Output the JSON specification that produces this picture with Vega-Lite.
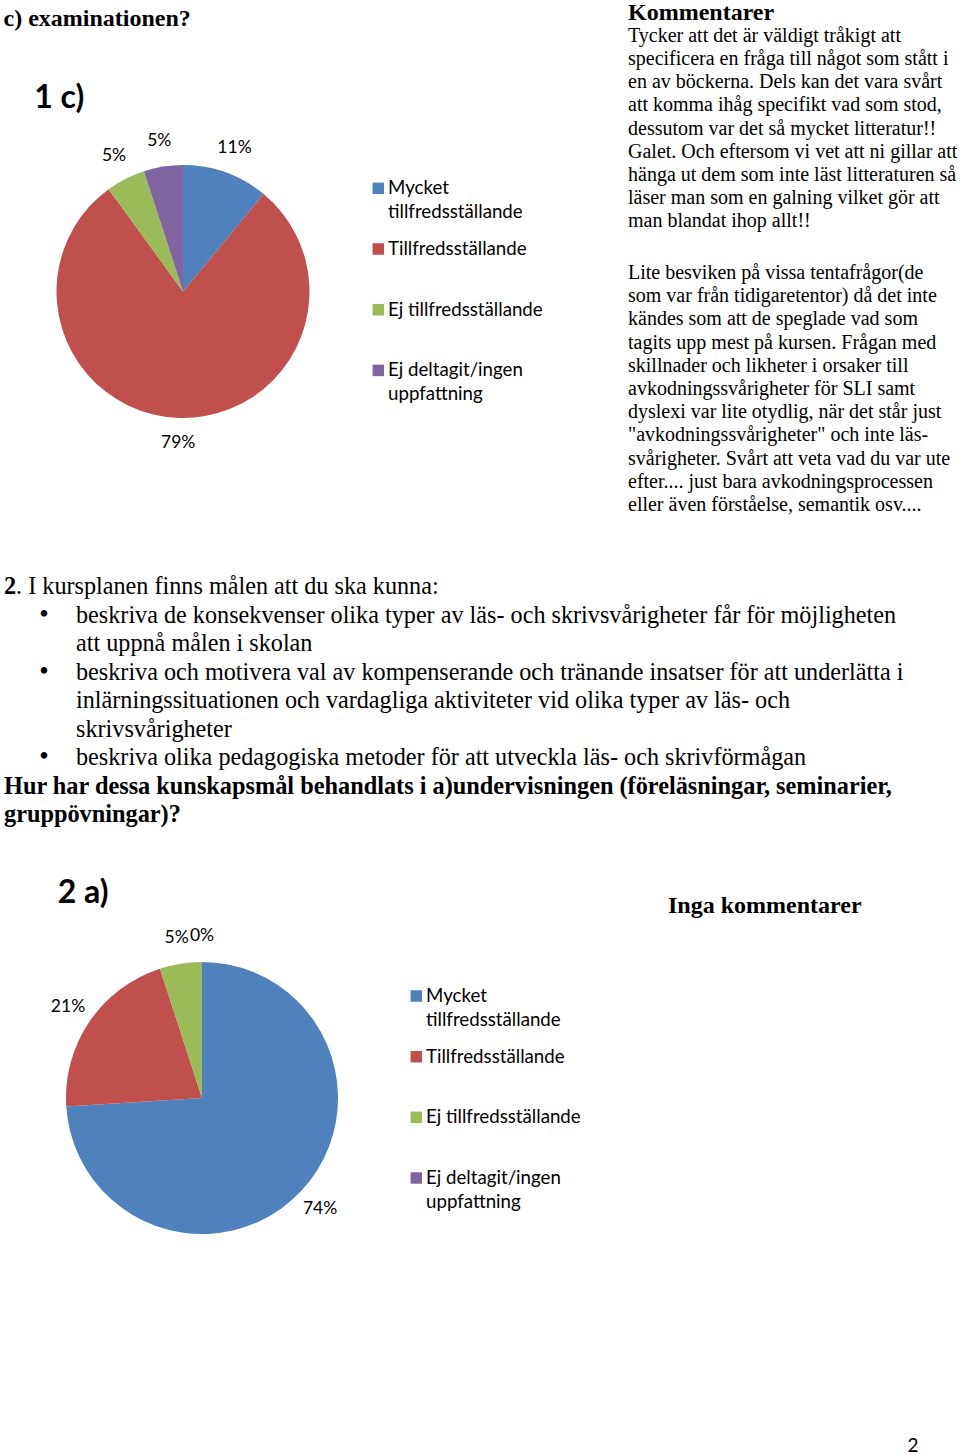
{
  "$schema": "https://vega.github.io/schema/vega-lite/v6.json",
  "padding": 0,
  "background": "white",
  "spacing": 0,
  "config": {
    "view": {"stroke": null},
    "axis": {"disable": true},
    "legend": {"disable": true},
    "concat": {"spacing": 0}
  },
  "datasets": {
    "pie1": [
      {"cat": "Mycket tillfredsställande", "share": 0.11, "order": 1},
      {"cat": "Tillfredsställande", "share": 0.79, "order": 2},
      {"cat": "Ej tillfredsställande", "share": 0.05, "order": 3},
      {"cat": "Ej deltagit/ingen uppfattning", "share": 0.05, "order": 4}
    ],
    "pie2": [
      {"cat": "Mycket tillfredsställande", "share": 0.74, "order": 1},
      {"cat": "Tillfredsställande", "share": 0.21, "order": 2},
      {"cat": "Ej tillfredsställande", "share": 0.05, "order": 3},
      {"cat": "Ej deltagit/ingen uppfattning", "share": 0.0, "order": 4}
    ],
    "legend": [
      {"cat": "Mycket tillfredsställande", "order": 1, "label": "Mycket\ntillfredsställande"},
      {"cat": "Tillfredsställande", "order": 2, "label": "Tillfredsställande"},
      {"cat": "Ej tillfredsställande", "order": 3, "label": "Ej tillfredsställande"},
      {"cat": "Ej deltagit/ingen uppfattning", "order": 4, "label": "Ej deltagit/ingen\nuppfattning"}
    ],
    "para1": [
      {"line": 0, "text": "Tycker att det är väldigt tråkigt att"},
      {"line": 1, "text": "specificera en fråga till något som stått i"},
      {"line": 2, "text": "en av böckerna. Dels kan det vara svårt"},
      {"line": 3, "text": "att komma ihåg specifikt vad som stod,"},
      {"line": 4, "text": "dessutom var det så mycket litteratur!!"},
      {"line": 5, "text": "Galet. Och eftersom vi vet att ni gillar att"},
      {"line": 6, "text": "hänga ut dem som inte läst litteraturen så"},
      {"line": 7, "text": "läser man som en galning vilket gör att"},
      {"line": 8, "text": "man blandat ihop allt!!"}
    ],
    "para2": [
      {"line": 0, "text": "Lite besviken på vissa tentafrågor(de"},
      {"line": 1, "text": "som var från tidigaretentor) då det inte"},
      {"line": 2, "text": "kändes som att de speglade vad som"},
      {"line": 3, "text": "tagits upp mest på kursen. Frågan med"},
      {"line": 4, "text": "skillnader och likheter i orsaker till"},
      {"line": 5, "text": "avkodningssvårigheter för SLI samt"},
      {"line": 6, "text": "dyslexi var lite otydlig, när det står just"},
      {"line": 7, "text": "\"avkodningssvårigheter\" och inte läs-"},
      {"line": 8, "text": "svårigheter. Svårt att veta vad du var ute"},
      {"line": 9, "text": "efter.... just bara avkodningsprocessen"},
      {"line": 10, "text": "eller även förståelse, semantik osv...."}
    ],
    "sec2first": [
      {"line": 0, "col": 0, "text": ". I kursplanen finns målen att du ska kunna:"}
    ],
    "sec2": [
      {"line": 1, "col": 2, "text": "beskriva de konsekvenser olika typer av läs- och skrivsvårigheter får för möjligheten"},
      {"line": 2, "col": 2, "text": "att uppnå målen i skolan"},
      {"line": 3, "col": 2, "text": "beskriva och motivera val av kompenserande och tränande insatser för att underlätta i"},
      {"line": 4, "col": 2, "text": "inlärningssituationen och vardagliga aktiviteter vid olika typer av läs- och"},
      {"line": 5, "col": 2, "text": "skrivsvårigheter"},
      {"line": 6, "col": 2, "text": "beskriva olika pedagogiska metoder för att utveckla läs- och skrivförmågan"}
    ],
    "sec2bullets": [
      {"line": 1, "col": 1, "text": "•"},
      {"line": 3, "col": 1, "text": "•"},
      {"line": 6, "col": 1, "text": "•"}
    ],
    "sec2bold": [
      {"line": 0, "col": 0, "text": "2"},
      {"line": 7, "col": 0, "text": "Hur har dessa kunskapsmål behandlats i a)undervisningen (föreläsningar, seminarier,"},
      {"line": 8, "col": 0, "text": "gruppövningar)?"}
    ]
  },
  "vconcat": [
    {
      "spacing": 0,
      "hconcat": [
        {
          "spacing": 0,
          "vconcat": [
            {
              "width": 366,
              "height": 115,
              "layer": [
                {
                  "data": {"values": [{"line": 0, "col": 0, "text": "c) examinationen?"}]},
                  "mark": {"type": "text", "font": "Liberation Serif", "fontWeight": "bold", "fontSize": 24, "align": "left", "baseline": "alphabetic", "color": "#000000"},
                  "encoding": {
                    "x": {"field": "col", "type": "quantitative", "scale": {"domain": [0, 1], "range": [3.5, 34.2], "nice": false, "zero": false}},
                    "y": {"field": "line", "type": "quantitative", "scale": {"domain": [0, 1], "range": [26, 107.5], "nice": false, "zero": false}},
                    "text": {"field": "text"}
                  }
                },
                {
                  "data": {"values": [{"line": 1, "col": 1, "text": "1 c)"}]},
                  "mark": {"type": "text", "font": "Lato", "fontWeight": "bold", "fontSize": 32, "align": "left", "baseline": "alphabetic", "color": "#000000"},
                  "encoding": {
                    "x": {"field": "col", "type": "quantitative", "scale": {"domain": [0, 1], "range": [3.5, 34.2], "nice": false, "zero": false}},
                    "y": {"field": "line", "type": "quantitative", "scale": {"domain": [0, 1], "range": [26, 107.5], "nice": false, "zero": false}},
                    "text": {"field": "text"}
                  }
                }
              ]
            },
            {
              "width": 366,
              "height": 353,
              "data": {"name": "pie1"},
              "layer": [
                {
                  "mark": {"type": "arc", "outerRadius": 126.5},
                  "encoding": {
                    "theta": {"field": "share", "type": "quantitative", "stack": true},
                    "order": {"field": "order", "type": "quantitative"},
                    "color": {"field": "cat", "type": "nominal", "legend": null,
                      "scale": {"domain": ["Mycket tillfredsställande", "Tillfredsställande", "Ej tillfredsställande", "Ej deltagit/ingen uppfattning"],
                                "range": ["#4F81BD", "#C0504D", "#9BBB59", "#8064A2"]}}
                  }
                },
                {
                  "mark": {"type": "text", "radius": 152, "font": "Lato", "fontSize": 17.5, "color": "#000000"},
                  "encoding": {
                    "theta": {"field": "share", "type": "quantitative", "stack": true},
                    "order": {"field": "order", "type": "quantitative"},
                    "text": {"field": "share", "type": "quantitative", "format": ".0%"}
                  }
                }
              ]
            }
          ]
        },
        {
          "width": 262,
          "height": 572,
          "data": {"name": "legend"},
          "layer": [
            {
              "mark": {"type": "point", "shape": "square", "filled": true, "size": 132, "opacity": 1, "strokeWidth": 0},
              "encoding": {
                "x": {"datum": 0, "type": "quantitative", "scale": {"domain": [0, 1], "range": [12.3, 22], "nice": false, "zero": false}},
                "y": {"field": "order", "type": "quantitative", "scale": {"domain": [1, 4], "range": [188.3, 370.4], "nice": false, "zero": false}},
                "color": {"field": "cat", "type": "nominal", "legend": null,
                  "scale": {"domain": ["Mycket tillfredsställande", "Tillfredsställande", "Ej tillfredsställande", "Ej deltagit/ingen uppfattning"],
                            "range": ["#4F81BD", "#C0504D", "#9BBB59", "#8064A2"]}}
              }
            },
            {
              "mark": {"type": "text", "font": "Lato", "fontSize": 18.7, "align": "left", "baseline": "alphabetic", "dy": 6, "lineBreak": "\n", "lineHeight": 24, "color": "#000000"},
              "encoding": {
                "x": {"datum": 1, "type": "quantitative", "scale": {"domain": [0, 1], "range": [12.3, 22], "nice": false, "zero": false}},
                "y": {"field": "order", "type": "quantitative", "scale": {"domain": [1, 4], "range": [188.3, 370.4], "nice": false, "zero": false}},
                "text": {"field": "label"}
              }
            }
          ]
        },
        {
          "width": 332,
          "height": 572,
          "resolve": {"scale": {"y": "independent"}},
          "layer": [
            {
              "data": {"values": [{"line": 0, "text": "Kommentarer"}]},
              "mark": {"type": "text", "font": "Liberation Serif", "fontWeight": "bold", "fontSize": 24, "align": "left", "baseline": "alphabetic", "color": "#000000"},
              "encoding": {
                "x": {"value": 0},
                "y": {"field": "line", "type": "quantitative", "scale": {"domain": [0, 1], "range": [19.5, 42], "nice": false, "zero": false}},
                "text": {"field": "text"}
              }
            },
            {
              "data": {"name": "para1"},
              "mark": {"type": "text", "font": "Liberation Serif", "fontSize": 20, "align": "left", "baseline": "alphabetic", "color": "#000000"},
              "encoding": {
                "x": {"value": 0},
                "y": {"field": "line", "type": "quantitative", "scale": {"domain": [0, 8], "range": [42, 227], "nice": false, "zero": false}},
                "text": {"field": "text"}
              }
            },
            {
              "data": {"name": "para2"},
              "mark": {"type": "text", "font": "Liberation Serif", "fontSize": 20, "align": "left", "baseline": "alphabetic", "color": "#000000"},
              "encoding": {
                "x": {"value": 0},
                "y": {"field": "line", "type": "quantitative", "scale": {"domain": [0, 10], "range": [279, 511], "nice": false, "zero": false}},
                "text": {"field": "text"}
              }
            }
          ]
        }
      ]
    },
    {
      "width": 960,
      "height": 288,
      "layer": [
        {
          "data": {"name": "sec2first"},
          "mark": {"type": "text", "font": "Liberation Serif", "fontSize": 24.2, "align": "left", "baseline": "alphabetic", "dx": 12.1, "color": "#000000"},
          "encoding": {
            "x": {"field": "col", "type": "quantitative", "scale": {"domain": [0, 2], "range": [4, 76], "nice": false, "zero": false}},
            "y": {"field": "line", "type": "quantitative", "scale": {"domain": [0, 8], "range": [22, 250], "nice": false, "zero": false}},
            "text": {"field": "text"}
          }
        },
        {
          "data": {"name": "sec2"},
          "mark": {"type": "text", "font": "Liberation Serif", "fontSize": 24.2, "align": "left", "baseline": "alphabetic", "color": "#000000"},
          "encoding": {
            "x": {"field": "col", "type": "quantitative", "scale": {"domain": [0, 2], "range": [4, 76], "nice": false, "zero": false}},
            "y": {"field": "line", "type": "quantitative", "scale": {"domain": [0, 8], "range": [22, 250], "nice": false, "zero": false}},
            "text": {"field": "text"}
          }
        },
        {
          "data": {"name": "sec2bullets"},
          "mark": {"type": "text", "font": "Liberation Serif", "fontSize": 27, "align": "center", "baseline": "alphabetic", "dx": 4, "color": "#000000"},
          "encoding": {
            "x": {"field": "col", "type": "quantitative", "scale": {"domain": [0, 2], "range": [4, 76], "nice": false, "zero": false}},
            "y": {"field": "line", "type": "quantitative", "scale": {"domain": [0, 8], "range": [22, 250], "nice": false, "zero": false}},
            "text": {"field": "text"}
          }
        },
        {
          "data": {"name": "sec2bold"},
          "mark": {"type": "text", "font": "Liberation Serif", "fontWeight": "bold", "fontSize": 24.3, "align": "left", "baseline": "alphabetic", "color": "#000000"},
          "encoding": {
            "x": {"field": "col", "type": "quantitative", "scale": {"domain": [0, 2], "range": [4, 76], "nice": false, "zero": false}},
            "y": {"field": "line", "type": "quantitative", "scale": {"domain": [0, 8], "range": [22, 250], "nice": false, "zero": false}},
            "text": {"field": "text"}
          }
        }
      ]
    },
    {
      "spacing": 0,
      "hconcat": [
        {
          "spacing": 0,
          "vconcat": [
            {
              "width": 404,
              "height": 55,
              "data": {"values": [{"line": 0, "col": 0, "text": "2 a)"}]},
              "mark": {"type": "text", "font": "Lato", "fontWeight": "bold", "fontSize": 32, "align": "left", "baseline": "alphabetic", "color": "#000000"},
              "encoding": {
                "x": {"field": "col", "type": "quantitative", "scale": {"domain": [0, 1], "range": [57.7, 58.7], "nice": false, "zero": false}},
                "y": {"field": "line", "type": "quantitative", "scale": {"domain": [0, 1], "range": [43.3, 44.3], "nice": false, "zero": false}},
                "text": {"field": "text"}
              }
            },
            {
              "width": 404,
              "height": 366,
              "data": {"name": "pie2"},
              "layer": [
                {
                  "mark": {"type": "arc", "outerRadius": 136},
                  "encoding": {
                    "theta": {"field": "share", "type": "quantitative", "stack": true},
                    "order": {"field": "order", "type": "quantitative"},
                    "color": {"field": "cat", "type": "nominal", "legend": null,
                      "scale": {"domain": ["Mycket tillfredsställande", "Tillfredsställande", "Ej tillfredsställande", "Ej deltagit/ingen uppfattning"],
                                "range": ["#4F81BD", "#C0504D", "#9BBB59", "#8064A2"]}}
                  }
                },
                {
                  "mark": {"type": "text", "radius": 162, "font": "Lato", "fontSize": 17.5, "color": "#000000"},
                  "encoding": {
                    "theta": {"field": "share", "type": "quantitative", "stack": true},
                    "order": {"field": "order", "type": "quantitative"},
                    "text": {"field": "share", "type": "quantitative", "format": ".0%"}
                  }
                }
              ]
            }
          ]
        },
        {
          "width": 264,
          "height": 421,
          "data": {"name": "legend"},
          "layer": [
            {
              "mark": {"type": "point", "shape": "square", "filled": true, "size": 132, "opacity": 1, "strokeWidth": 0},
              "encoding": {
                "x": {"datum": 0, "type": "quantitative", "scale": {"domain": [0, 1], "range": [12.3, 22], "nice": false, "zero": false}},
                "y": {"field": "order", "type": "quantitative", "scale": {"domain": [1, 4], "range": [136, 318], "nice": false, "zero": false}},
                "color": {"field": "cat", "type": "nominal", "legend": null,
                  "scale": {"domain": ["Mycket tillfredsställande", "Tillfredsställande", "Ej tillfredsställande", "Ej deltagit/ingen uppfattning"],
                            "range": ["#4F81BD", "#C0504D", "#9BBB59", "#8064A2"]}}
              }
            },
            {
              "mark": {"type": "text", "font": "Lato", "fontSize": 18.7, "align": "left", "baseline": "alphabetic", "dy": 6, "lineBreak": "\n", "lineHeight": 24, "color": "#000000"},
              "encoding": {
                "x": {"datum": 1, "type": "quantitative", "scale": {"domain": [0, 1], "range": [12.3, 22], "nice": false, "zero": false}},
                "y": {"field": "order", "type": "quantitative", "scale": {"domain": [1, 4], "range": [136, 318], "nice": false, "zero": false}},
                "text": {"field": "label"}
              }
            }
          ]
        },
        {
          "width": 292,
          "height": 421,
          "data": {"values": [{"line": 0, "text": "Inga kommentarer"}]},
          "mark": {"type": "text", "font": "Liberation Serif", "fontWeight": "bold", "fontSize": 24, "align": "left", "baseline": "alphabetic", "color": "#000000"},
          "encoding": {
            "x": {"value": 0},
            "y": {"field": "line", "type": "quantitative", "scale": {"domain": [0, 1], "range": [53, 54], "nice": false, "zero": false}},
            "text": {"field": "text"}
          }
        }
      ]
    },
    {
      "spacing": 0,
      "hconcat": [
        {
          "width": 907,
          "height": 176,
          "data": {"values": []},
          "mark": {"type": "point", "opacity": 0},
          "encoding": {}
        },
        {
          "width": 10,
          "height": 176,
          "data": {"values": [{"line": 0, "text": "2"}]},
          "mark": {"type": "text", "font": "Lato", "fontSize": 19, "align": "center", "baseline": "alphabetic", "color": "#000000"},
          "encoding": {
            "y": {"field": "line", "type": "quantitative", "scale": {"domain": [0, 1], "range": [171, 172], "nice": false, "zero": false}},
            "text": {"field": "text"}
          }
        }
      ]
    }
  ]
}
